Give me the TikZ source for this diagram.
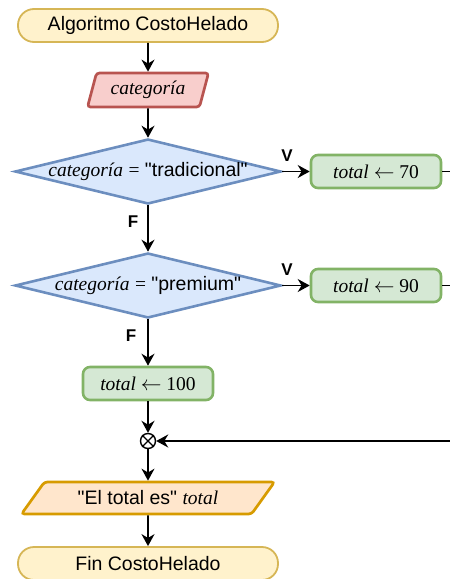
\documentclass[tikz,border=0pt]{standalone}
\usepackage{fontspec}
\setmainfont{Liberation Sans}[Ligatures=TeXOff]
\newfontfamily\tmsfont{Liberation Serif}
\usetikzlibrary{arrows.meta,positioning,shapes.geometric}
\definecolor{termfill}{RGB}{255,242,204}
\definecolor{termline}{RGB}{214,182,86}
\definecolor{readfill}{RGB}{248,206,204}
\definecolor{readline}{RGB}{184,84,80}
\definecolor{decfill}{RGB}{218,232,252}
\definecolor{decline}{RGB}{108,142,191}
\definecolor{procfill}{RGB}{213,232,212}
\definecolor{procline}{RGB}{130,179,102}
\definecolor{writefill}{RGB}{255,230,204}
\definecolor{writeline}{RGB}{215,155,0}
\newcommand{\var}[1]{{\tmsfont\itshape #1}}
\newcommand{\asig}[1]{{\tmsfont\ $\leftarrow$ #1}}

\begin{document}
\begin{tikzpicture}[x=1pt,y=-1pt,
    font=\fontsize{19.5}{23}\selectfont,
    termbox/.style={draw=termline,fill=termfill,line width=1.8pt,rounded corners=16pt,
      minimum width=260pt,minimum height=33pt,inner sep=0pt},
    readbox/.style={trapezium,trapezium left angle=63,trapezium right angle=117,
      trapezium stretches body,draw=readline,fill=readfill,line width=2.7pt,
      rounded corners=3pt,minimum width=121pt,minimum height=34pt,inner sep=0pt},
    writebox/.style={trapezium,trapezium left angle=32,trapezium right angle=148,
      trapezium stretches body,draw=writeline,fill=writefill,line width=2.7pt,
      rounded corners=3pt,minimum width=253pt,minimum height=32pt,inner sep=0pt},
    decbox/.style={diamond,draw=decline,fill=decfill,line width=2.6pt,
      minimum width=266pt,minimum height=65pt,inner sep=0pt},
    procbox/.style={draw=procline,fill=procfill,line width=2.6pt,rounded corners=7pt,
      minimum width=130pt,minimum height=33pt,inner sep=0pt},
    flow/.style={-{Stealth[length=12pt,width=13pt]},line width=1.8pt},
    vflabel/.style={font=\fontsize{17}{19}\selectfont\bfseries}]
  \useasboundingbox (0,0) rectangle (450,579);

  % main column
  \node[termbox] (start) at (148,25.5) {Algoritmo CostoHelado};
  \node[readbox] (leer) at (148,90) {\var{categoría}};
  \node[decbox, label={center:\var{categoría} {\tmsfont =} "tradicional"}] (dec1) at (148,171.5) {};
  \node[decbox, label={center:\var{categoría} {\tmsfont =} "premium"}] (dec2) at (148,285.5) {};
  \node[procbox] (cien) at (148,383.5) {\var{total}\asig{100}};
  \node[circle,draw,fill=white,line width=1.4pt,minimum size=15pt,inner sep=0pt] (merge) at (148,441) {};
  \draw[line width=1.4pt] (merge.north west) -- (merge.south east)
    (merge.north east) -- (merge.south west);
  \node[writebox] (escribir) at (148,498) {"El total es" \var{total}};
  \node[termbox] (fin) at (148,563.5) {Fin CostoHelado};

  % right branches
  \node[procbox] (setenta) at (376,171.5) {\var{total}\asig{70}};
  \node[procbox] (noventa) at (376,285.5) {\var{total}\asig{90}};
  \coordinate (out1) at (450,171.5);
  \coordinate (out2) at (450,285.5);
  \coordinate (back) at (450,441);

  % labels
  \node[vflabel] (v1) at (287,156) {V};
  \node[vflabel] (v2) at (287,270) {V};
  \node[vflabel] (f1) at (133,222) {F};
  \node[vflabel] (f2) at (131,336) {F};

  % connectors
  \draw[flow] (start) -- (leer);
  \draw[flow] (leer) -- (dec1);
  \draw[flow] (dec1) -- (dec2);
  \draw[flow] (dec2) -- (cien);
  \draw[flow] (cien) -- (merge);
  \draw[flow] (merge) -- (escribir);
  \draw[flow] (escribir) -- (fin);
  \draw[flow] (dec1.east) -- (setenta);
  \draw[flow] (dec2.east) -- (noventa);
  \draw[line width=1.8pt] (setenta) -- (out1);
  \draw[line width=1.8pt] (noventa) -- (out2);
  \draw[flow] (back) -- (merge);
\end{tikzpicture}
\end{document}
